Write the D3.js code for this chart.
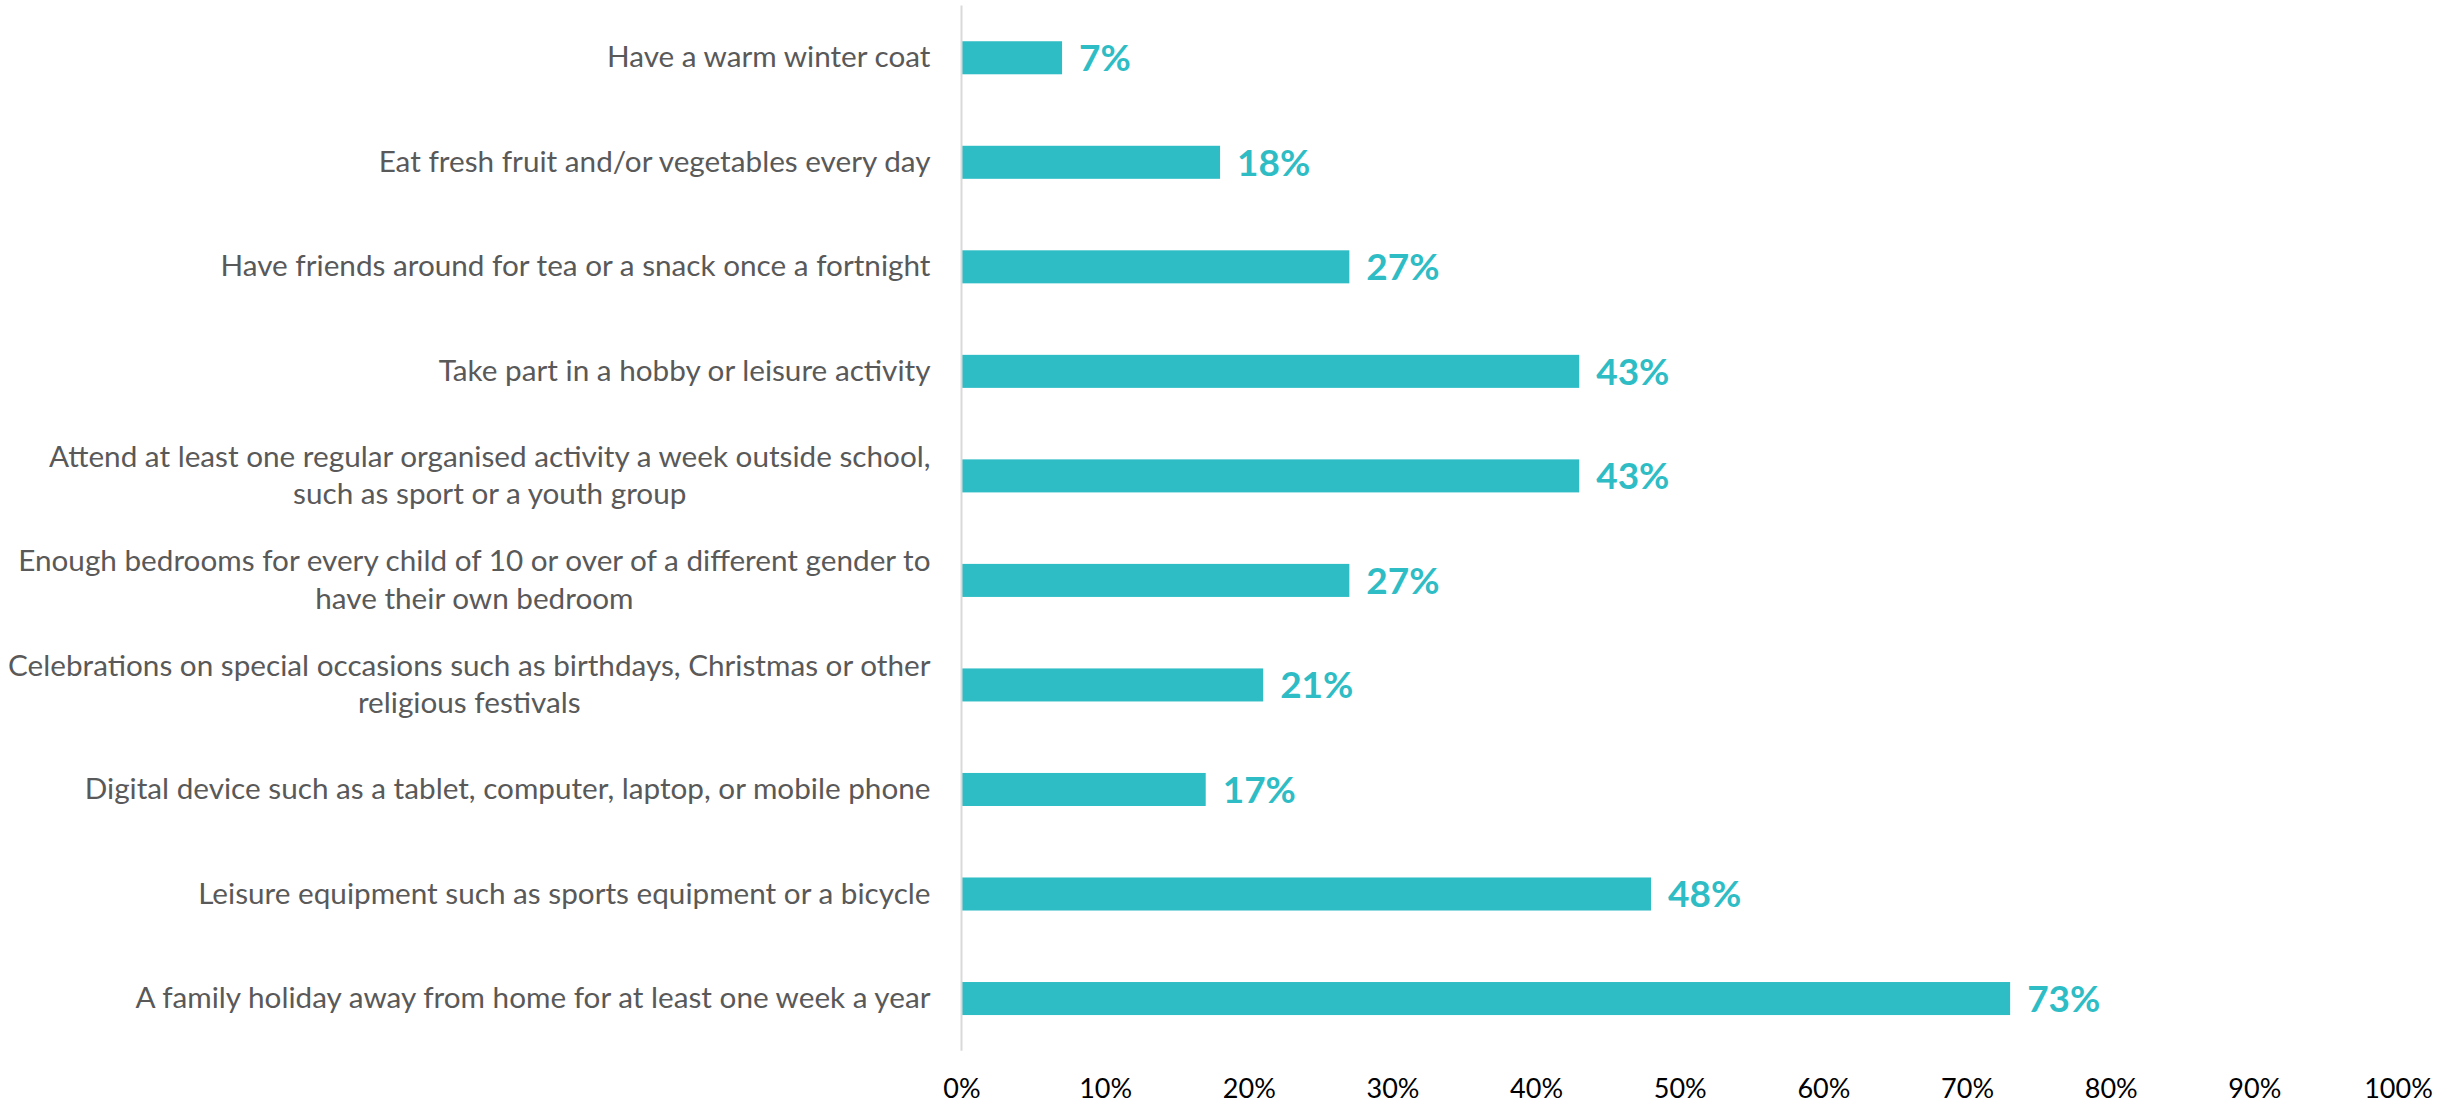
<!DOCTYPE html>
<html>
<head>
<meta charset="utf-8">
<script src="https://cdn.jsdelivr.net/npm/d3@7"></script>
<style>
  html, body { margin: 0; padding: 0; background: #fff; }
  svg { display: block; }
</style>
</head>
<body>
<svg id="chart" width="2463" height="1107"></svg>
<script>
// Items children go without, top to bottom; "\n" marks a wrapped line
const categories = [
  "Have a warm winter coat",
  "Eat fresh fruit and/or vegetables every day",
  "Have friends around for tea or a snack once a fortnight",
  "Take part in a hobby or leisure activity",
  "Attend at least one regular organised activity a week outside school,\nsuch as sport or a youth group",
  "Enough bedrooms for every child of 10 or over of a different gender to\nhave their own bedroom",
  "Celebrations on special occasions such as birthdays, Christmas or other\nreligious festivals",
  "Digital device such as a tablet, computer, laptop, or mobile phone",
  "Leisure equipment such as sports equipment or a bicycle",
  "A family holiday away from home for at least one week a year"
];
// Share of children (%)
const values = [7, 18, 27, 43, 43, 27, 21, 17, 48, 73];
// X axis ticks (%)
const xTicks = [0, 10, 20, 30, 40, 50, 60, 70, 80, 90, 100];

const barColor = "#2ebdc5";
const font = "Lato, 'Open Sans', sans-serif";

const svg = d3.select("#chart");
const plot = { left: 961.5, right: 2398, top: 5.5, bottom: 1050.8 };

const x = d3.scaleLinear().domain([0, 100]).range([plot.left, plot.right]);
const y = d3.scaleBand().domain(d3.range(categories.length))
  .range([plot.top, plot.bottom]).paddingInner(0.684).paddingOuter(0.342);

// Bars
svg.append("g").selectAll("rect")
  .data(values)
  .join("rect")
  .attr("x", x(0))
  .attr("y", (d, i) => y(i))
  .attr("width", d => x(d) - x(0))
  .attr("height", y.bandwidth())
  .attr("fill", barColor);

// Vertical category axis line
svg.append("line")
  .attr("x1", x(0)).attr("x2", x(0))
  .attr("y1", plot.top).attr("y2", plot.bottom)
  .attr("stroke", "#d9d9d9").attr("stroke-width", 2);

// Value labels
svg.append("g").selectAll("text")
  .data(values)
  .join("text")
  .attr("x", d => x(d) + 17)
  .attr("y", (d, i) => y(i) + y.bandwidth() / 2)
  .attr("dy", "0.36em")
  .attr("font-family", font)
  .attr("font-weight", 700)
  .attr("font-size", 37)
  .attr("fill", barColor)
  .text(d => d + "%");

// Category labels: right-aligned block, wrapped lines centred on each other
const labelRight = plot.left - 31;
const lineH = 37.7;
const catG = svg.append("g");
categories.forEach((c, i) => {
  const lines = c.split("\n");
  const cy = y(i) + y.bandwidth() / 2;
  const g = catG.append("g");
  const texts = lines.map((ln, k) => g.append("text")
    .attr("y", cy + (k - (lines.length - 1) / 2) * lineH)
    .attr("dy", "0.32em")
    .attr("font-family", font)
    .attr("font-size", 29.7)
    .attr("fill", "#595959")
    .text(ln));
  const widths = texts.map(t => t.node().getComputedTextLength());
  const maxW = d3.max(widths);
  texts.forEach(t => t.attr("x", labelRight - maxW / 2).attr("text-anchor", "middle"));
});

// X axis tick labels
const xAxis = d3.axisBottom(x).tickValues(xTicks).tickFormat(d => d + "%").tickSize(0).tickPadding(0);
const ax = svg.append("g").attr("transform", "translate(0,1079)").call(xAxis);
ax.select(".domain").remove();
ax.selectAll("text")
  .attr("font-family", font)
  .attr("font-size", 27)
  .attr("fill", "#000");
</script>
</body>
</html>
